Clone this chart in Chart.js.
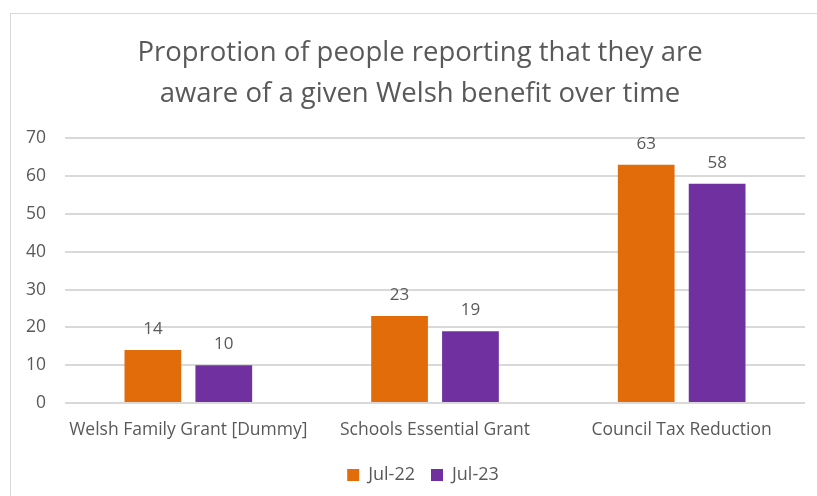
<!DOCTYPE html>
<html>
<head>
<meta charset="utf-8">
<script src="https://cdn.jsdelivr.net/npm/chart.js@4"></script>
<style>
  body { margin: 0; background: #fff; overflow: hidden; }
  #frame { position: absolute; left: 10px; top: 13px; width: 830px; height: 500px; border: 1px solid #d9d9d9; }
  #wrap { position: absolute; left: 0; top: 0; width: 817px; height: 496px; }
</style>
</head>
<body>
<div id="frame"></div>
<div id="wrap"><canvas id="chart"></canvas></div>
<script>
const categories = ["Welsh Family Grant [Dummy]", "Schools Essential Grant", "Council Tax Reduction"];
const jul22 = [14, 23, 63];
const jul23 = [10, 19, 58];
const seriesNames = ["Jul-22", "Jul-23"];

const textColor = "#595959";
const fontFamily = "'Open Sans', sans-serif";

// draw the value above every bar
const barLabels = {
  id: "barLabels",
  afterDatasetsDraw(chart) {
    const ctx = chart.ctx;
    ctx.save();
    ctx.fillStyle = textColor;
    ctx.font = "17px " + fontFamily;
    ctx.textAlign = "center";
    ctx.textBaseline = "middle";
    chart.data.datasets.forEach((ds, i) => {
      chart.getDatasetMeta(i).data.forEach((bar, j) => {
        ctx.fillText(ds.data[j], bar.x, bar.y - 21);
      });
    });
    ctx.restore();
  }
};

// title and legend sit centred over the plot area, not the whole canvas
const centreOverPlot = {
  id: "centreOverPlot",
  afterLayout(chart) {
    chart.titleBlock.left = 35;
    chart.titleBlock.right = 805;
    chart.legend.left = 41;
    chart.legend.right = 805;
  }
};

new Chart(document.getElementById("chart").getContext("2d"), {
  type: "bar",
  data: {
    labels: categories,
    datasets: [
      { label: seriesNames[0], data: jul22, backgroundColor: "#e36c0a" },
      { label: seriesNames[1], data: jul23, backgroundColor: "#7030a0" }
    ]
  },
  options: {
    responsive: true,
    maintainAspectRatio: false,
    animation: false,
    layout: { padding: { left: 22, right: 12, top: 14, bottom: 2 } },
    datasets: {
      bar: { categoryPercentage: 0.575, barPercentage: 0.8 }
    },
    plugins: {
      title: {
        display: true,
        text: ["Proprotion of people reporting that they are", "aware of a given Welsh benefit over time"],
        color: textColor,
        font: { family: fontFamily, size: 27.5, weight: "normal", lineHeight: 1.48 },
        padding: { top: 19, bottom: 24 }
      },
      legend: {
        position: "bottom",
        labels: {
          color: textColor,
          font: { family: fontFamily, size: 18 },
          boxWidth: 12,
          boxHeight: 12,
          padding: 16
        }
      },
      tooltip: { enabled: false }
    },
    scales: {
      x: {
        grid: { display: false },
        border: { display: false },
        ticks: { color: textColor, font: { family: fontFamily, size: 17.5 }, padding: 9 }
      },
      y: {
        min: 0,
        max: 70,
        ticks: { stepSize: 10, color: textColor, font: { family: fontFamily, size: 17.5 }, padding: 19 },
        grid: { color: "#d9d9d9", lineWidth: 2, drawTicks: false },
        border: { display: false },
        afterFit(scale) { scale.width = 43; }
      }
    }
  },
  plugins: [barLabels, centreOverPlot]
});
</script>
</body>
</html>
